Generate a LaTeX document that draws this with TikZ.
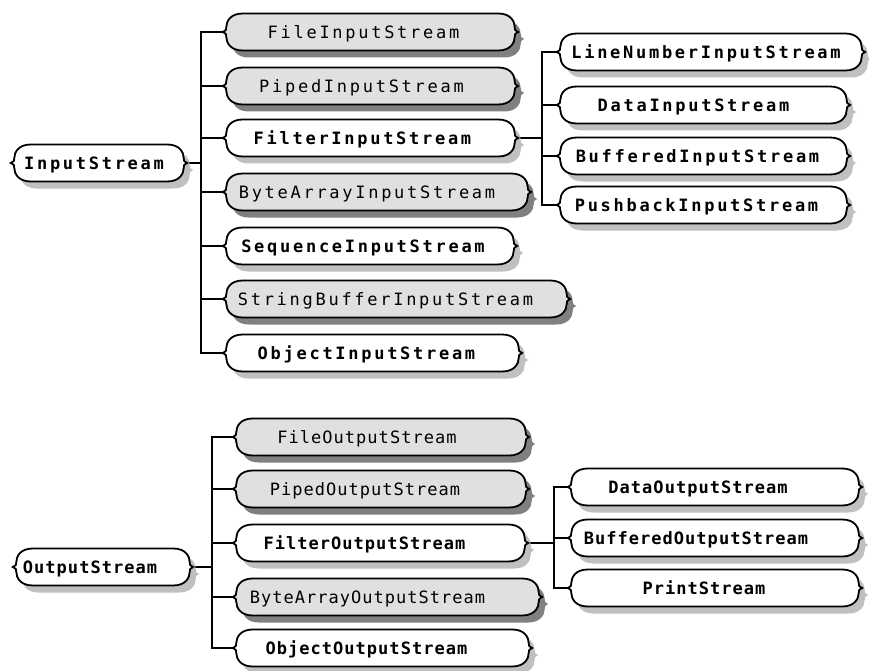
\documentclass[tikz,border=0pt]{standalone}
\usepackage{fontspec}
\usetikzlibrary{calc,backgrounds}
\newfontfamily\inpfont[LetterSpace=16]{DejaVu Sans Mono}
\newfontfamily\outfont[LetterSpace=6]{DejaVu Sans Mono}
\definecolor{boxgray}{HTML}{E0E0E0}
\definecolor{shdark}{HTML}{808080}
\definecolor{shlight}{HTML}{C0C0C0}
\tikzset{
  cls/.style={rectangle, inner sep=0pt, minimum height=37pt, text height=12.4pt, text depth=0pt},
  ireg/.style={font=\inpfont\fontsize{17}{20}\selectfont},
  ibold/.style={font=\inpfont\fontsize{17}{20}\selectfont\bfseries},
  oreg/.style={font=\outfont\fontsize{17}{20}\selectfont},
  obold/.style={font=\outfont\fontsize{17}{20}\selectfont\bfseries},
  conn/.style={draw=black, line width=2.6pt},
}
% #1 name, #2 left, #3 right, #4 centre y, #5 text shift left, #6 font style, #7 text
\newcommand\cls[7]{\node[cls,#6,minimum width={#3pt-#2pt}] (#1) at ({(#2+#3)/2},#4) {\hspace*{-#5pt}\hspace*{-#5pt}#7};}
% #1 options, #2 node, #3 offset
\newcommand\clsoutline[3]{%
  \path[#1] let \p1=($(#2.west)+(#3)$), \p2=($(#2.east)+(#3)$) in
    (\x1+20pt,\y1+18.5pt) -- (\x2-20pt,\y1+18.5pt)
    .. controls (\x2-8pt,\y1+18.5pt) and (\x2-3.5pt,\y1+11pt) .. (\x2-3.5pt,\y1+5pt)
    .. controls (\x2-3.5pt,\y1+2pt) .. (\x2,\y1)
    .. controls (\x2-3.5pt,\y1-2pt) .. (\x2-3.5pt,\y1-5pt)
    .. controls (\x2-3.5pt,\y1-11pt) and (\x2-8pt,\y1-18.5pt) .. (\x2-20pt,\y1-18.5pt)
    -- (\x1+20pt,\y1-18.5pt)
    .. controls (\x1+8pt,\y1-18.5pt) and (\x1+3.5pt,\y1-11pt) .. (\x1+3.5pt,\y1-5pt)
    .. controls (\x1+3.5pt,\y1-2pt) .. (\x1,\y1)
    .. controls (\x1+3.5pt,\y1+2pt) .. (\x1+3.5pt,\y1+5pt)
    .. controls (\x1+3.5pt,\y1+11pt) and (\x1+8pt,\y1+18.5pt) .. cycle;}
\newcommand\drawcls[3]{\clsoutline{fill=#3}{#1}{6pt,-7pt}\clsoutline{draw=black,line width=1.8pt,fill=#2}{#1}{0pt,0pt}}
\begin{document}
\begin{tikzpicture}[x=1pt,y=-1pt]
\useasboundingbox (0,0) rectangle (869,671);
% ---------- InputStream group
\cls{is}{11}{187}{163}{5}{ibold}{InputStream}
\cls{fis}{223}{518}{32}{7}{ireg}{FileInputStream}
\cls{pis}{223}{518}{86}{9}{ireg}{PipedInputStream}
\cls{fltis}{223}{518}{138}{8}{ibold}{FilterInputStream}
\cls{bais}{223}{531}{192}{10}{ireg}{ByteArrayInputStream}
\cls{sis}{223}{517}{246}{7}{ibold}{SequenceInputStream}
\cls{sbis}{223}{570}{299}{11}{ireg}{StringBufferInputStream}
\cls{ois}{223}{522}{353}{6}{ibold}{ObjectInputStream}
\cls{lnis}{557}{865}{52}{5}{ibold}{LineNumberInputStream}
\cls{dis}{557}{850}{105}{10}{ibold}{DataInputStream}
\cls{bis}{557}{850}{156}{6}{ibold}{BufferedInputStream}
\cls{pbis}{557}{850}{205}{7}{ibold}{PushbackInputStream}
% ---------- OutputStream group
\cls{os}{13}{193}{567}{13}{obold}{OutputStream}
\cls{fos}{233}{529}{437}{14}{oreg}{FileOutputStream}
\cls{pos}{233}{529}{489}{16}{oreg}{PipedOutputStream}
\cls{fltos}{233}{528}{543}{16}{obold}{FilterOutputStream}
\cls{baos}{233}{542}{597}{20}{oreg}{ByteArrayOutputStream}
\cls{oos}{233}{532}{648}{16}{obold}{ObjectOutputStream}
\cls{dos}{568}{862}{487}{17}{obold}{DataOutputStream}
\cls{bos}{568}{862}{538}{19}{obold}{BufferedOutputStream}
\cls{ps}{568}{862}{588}{11}{obold}{PrintStream}
% ---------- trunk positions
\coordinate (t1) at (201,0);
\coordinate (t2) at (542,0);
\coordinate (t3) at (212,0);
\coordinate (t4) at (554,0);
\begin{scope}[on background layer]
  \fill[white] (0,0) rectangle (869,671);
  % connectors
  \draw[conn] (is.east) -- (t1 |- is.east);
  \draw[conn] (fis.west) -| (t1 |- ois.west) -- (ois.west);
  \foreach \c in {pis,fltis,bais,sis,sbis} \draw[conn] (t1 |- \c.west) -- (\c.west);
  \draw[conn] (fltis.east) -- (t2 |- fltis.east);
  \draw[conn] (lnis.west) -| (t2 |- pbis.west) -- (pbis.west);
  \foreach \c in {dis,bis} \draw[conn] (t2 |- \c.west) -- (\c.west);
  \draw[conn] (os.east) -- (t3 |- os.east);
  \draw[conn] (fos.west) -| (t3 |- oos.west) -- (oos.west);
  \foreach \c in {pos,fltos,baos} \draw[conn] (t3 |- \c.west) -- (\c.west);
  \draw[conn] (fltos.east) -- (t4 |- fltos.east);
  \draw[conn] (dos.west) -| (t4 |- ps.west) -- (ps.west);
  \draw[conn] (t4 |- bos.west) -- (bos.west);
  % boxes
  \foreach \nm in {is,fltis,sis,ois,lnis,dis,bis,pbis,os,fltos,oos,dos,bos,ps}
    {\drawcls{\nm}{white}{shlight}}
  \foreach \nm in {fis,pis,bais,sbis,fos,pos,baos}
    {\drawcls{\nm}{boxgray}{shdark}}
\end{scope}
\end{tikzpicture}
\end{document}
